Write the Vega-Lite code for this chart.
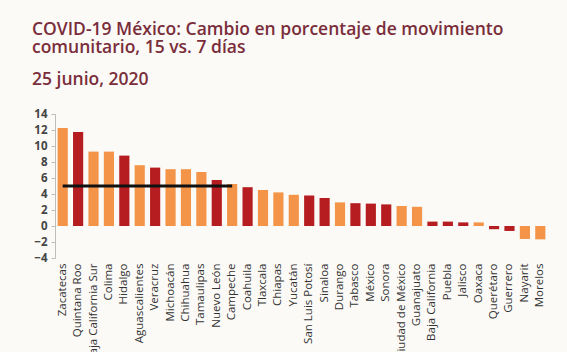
{
  "$schema": "https://vega.github.io/schema/vega-lite/v6.json",
  "width": 493,
  "height": 144,
  "autosize": {"type": "none"},
  "padding": {"left": 55, "top": 114, "right": 19, "bottom": 94},
  "background": "#fbfaf6",
  "title": {
    "text": ["COVID-19 México: Cambio en porcentaje de movimiento", "comunitario, 15 vs. 7 días"],
    "subtitle": "25 junio, 2020",
    "anchor": "start",
    "frame": "group",
    "dx": -23,
    "offset": 20,
    "font": "Open Sans",
    "fontSize": 17.5,
    "fontWeight": 600,
    "color": "#7a2d3b",
    "lineHeight": 18,
    "subtitleFont": "Open Sans",
    "subtitleFontSize": 17.5,
    "subtitleFontWeight": 600,
    "subtitleColor": "#7a2d3b",
    "subtitlePadding": 14
  },
  "datasets": {
    "movilidad": [
      {"estado": "Zacatecas", "cambio": 12.25, "grupo": "A"},
      {"estado": "Quintana Roo", "cambio": 11.75, "grupo": "B"},
      {"estado": "Baja California Sur", "cambio": 9.3, "grupo": "A"},
      {"estado": "Colima", "cambio": 9.3, "grupo": "A"},
      {"estado": "Hidalgo", "cambio": 8.8, "grupo": "B"},
      {"estado": "Aguascalientes", "cambio": 7.6, "grupo": "A"},
      {"estado": "Veracruz", "cambio": 7.3, "grupo": "B"},
      {"estado": "Michoacán", "cambio": 7.1, "grupo": "A"},
      {"estado": "Chihuahua", "cambio": 7.1, "grupo": "A"},
      {"estado": "Tamaulipas", "cambio": 6.75, "grupo": "A"},
      {"estado": "Nuevo León", "cambio": 5.75, "grupo": "B"},
      {"estado": "Campeche", "cambio": 5.25, "grupo": "A"},
      {"estado": "Coahuila", "cambio": 4.85, "grupo": "B"},
      {"estado": "Tlaxcala", "cambio": 4.5, "grupo": "A"},
      {"estado": "Chiapas", "cambio": 4.2, "grupo": "A"},
      {"estado": "Yucatán", "cambio": 3.9, "grupo": "A"},
      {"estado": "San Luis Potosí", "cambio": 3.8, "grupo": "B"},
      {"estado": "Sinaloa", "cambio": 3.5, "grupo": "B"},
      {"estado": "Durango", "cambio": 2.95, "grupo": "A"},
      {"estado": "Tabasco", "cambio": 2.85, "grupo": "B"},
      {"estado": "México", "cambio": 2.8, "grupo": "B"},
      {"estado": "Sonora", "cambio": 2.7, "grupo": "B"},
      {"estado": "Ciudad de México", "cambio": 2.5, "grupo": "A"},
      {"estado": "Guanajuato", "cambio": 2.4, "grupo": "A"},
      {"estado": "Baja California", "cambio": 0.55, "grupo": "B"},
      {"estado": "Puebla", "cambio": 0.55, "grupo": "B"},
      {"estado": "Jalisco", "cambio": 0.45, "grupo": "B"},
      {"estado": "Oaxaca", "cambio": 0.45, "grupo": "A"},
      {"estado": "Querétaro", "cambio": -0.4, "grupo": "B"},
      {"estado": "Guerrero", "cambio": -0.62, "grupo": "B"},
      {"estado": "Nayarit", "cambio": -1.62, "grupo": "A"},
      {"estado": "Morelos", "cambio": -1.67, "grupo": "A"}
    ]
  },
  "data": {"name": "movilidad"},
  "encoding": {
    "x": {
      "field": "estado",
      "type": "nominal",
      "sort": null,
      "scale": {"paddingInner": 0.34, "paddingOuter": 0.17},
      "axis": {
        "title": null,
        "labelAngle": -90,
        "labelAlign": "right",
        "labelBaseline": "middle",
        "labelFont": "Open Sans",
        "labelFontSize": 11.5,
        "labelColor": "#333333",
        "labelPadding": 5,
        "domain": false,
        "ticks": false,
        "labelOverlap": false
      }
    }
  },
  "layer": [
    {
      "mark": {"type": "bar"},
      "encoding": {
        "y": {
          "field": "cambio",
          "type": "quantitative",
          "scale": {"domain": [-4, 14], "nice": false},
          "axis": {
            "title": null,
            "values": [-4, -2, 0, 2, 4, 6, 8, 10, 12, 14],
            "tickCount": 10,
            "grid": false,
            "domainColor": "#bdbdbd",
            "tickColor": "#bdbdbd",
            "tickSize": 4,
            "labelFont": "Open Sans",
            "labelFontSize": 11.5,
            "labelFontWeight": 700,
            "labelColor": "#444444",
            "labelPadding": 4,
            "labelOverlap": false,
            "labelFlush": false
          }
        },
        "color": {
          "field": "grupo",
          "type": "nominal",
          "scale": {"domain": ["A", "B"], "range": ["#f39449", "#b51d20"]},
          "legend": null
        }
      }
    },
    {
      "mark": {"type": "rule", "color": "#c8c8c8", "strokeWidth": 1},
      "encoding": {"y": {"datum": 0, "type": "quantitative"}}
    },
    {
      "transform": [{"filter": {"field": "estado", "oneOf": ["Zacatecas", "Campeche"]}}],
      "mark": {"type": "line", "color": "#111111", "strokeWidth": 3},
      "encoding": {"y": {"datum": 5, "type": "quantitative"}}
    }
  ],
  "config": {"view": {"stroke": null}}
}
